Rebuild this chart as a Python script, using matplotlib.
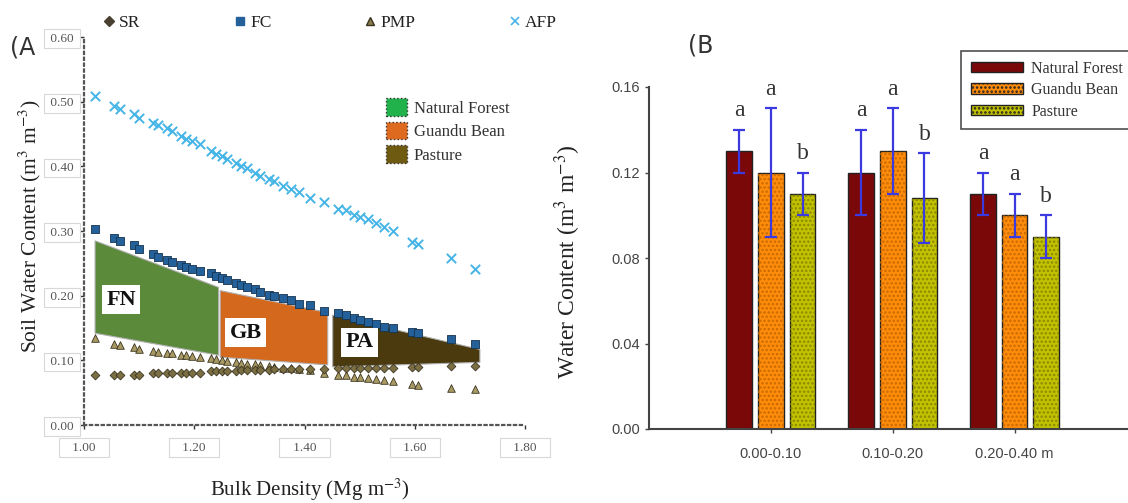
import matplotlib.pyplot as plt
from matplotlib.patches import Patch
from matplotlib.lines import Line2D

plt.rcParams['font.family'] = ['Liberation Serif', 'DejaVu Serif']
plt.rcParams['mathtext.fontset'] = 'stix'
plt.rcParams['hatch.linewidth'] = 1.2

# ---- panel A data ----
bd = [1.02, 1.055, 1.065, 1.09, 1.10, 1.125, 1.135, 1.15, 1.16, 1.175, 1.185,
      1.195, 1.21, 1.23, 1.24, 1.25, 1.26, 1.275, 1.285, 1.295, 1.31, 1.32,
      1.335, 1.345, 1.36, 1.375, 1.39, 1.41, 1.435, 1.46, 1.475, 1.49, 1.50,
      1.515, 1.53, 1.545, 1.56, 1.595, 1.605, 1.665, 1.71]
fc = [0.304, 0.290, 0.285, 0.278, 0.273, 0.265, 0.260, 0.255, 0.252, 0.247, 0.244,
      0.242, 0.239, 0.235, 0.231, 0.227, 0.224, 0.219, 0.216, 0.213, 0.211, 0.206,
      0.201, 0.199, 0.196, 0.193, 0.188, 0.185, 0.177, 0.173, 0.170, 0.165, 0.162,
      0.159, 0.157, 0.151, 0.150, 0.144, 0.142, 0.133, 0.125]
afp = [0.509, 0.494, 0.489, 0.481, 0.475, 0.468, 0.464, 0.460, 0.455, 0.447, 0.443,
       0.440, 0.435, 0.424, 0.420, 0.416, 0.412, 0.405, 0.400, 0.397, 0.390, 0.386,
       0.380, 0.377, 0.370, 0.365, 0.360, 0.352, 0.345, 0.335, 0.332, 0.325, 0.322,
       0.318, 0.312, 0.306, 0.300, 0.283, 0.280, 0.258, 0.242]
pmp = [0.134, 0.126, 0.124, 0.120, 0.118, 0.114, 0.113, 0.112, 0.111, 0.109, 0.108,
       0.107, 0.106, 0.104, 0.102, 0.100, 0.099, 0.098, 0.096, 0.095, 0.094, 0.093,
       0.091, 0.090, 0.089, 0.088, 0.087, 0.085, 0.080, 0.078, 0.077, 0.075, 0.074,
       0.072, 0.071, 0.069, 0.068, 0.063, 0.062, 0.057, 0.055]
sr = [0.077, 0.078, 0.078, 0.078, 0.078, 0.080, 0.080, 0.080, 0.081, 0.081, 0.081,
      0.081, 0.081, 0.083, 0.083, 0.084, 0.084, 0.084, 0.085, 0.085, 0.085, 0.085,
      0.085, 0.086, 0.086, 0.087, 0.087, 0.087, 0.087, 0.088, 0.088, 0.088, 0.088,
      0.089, 0.089, 0.089, 0.089, 0.090, 0.090, 0.091, 0.092]

fn_x = [1.02, 1.244, 1.244, 1.02]
fn_y = [0.285, 0.213, 0.108, 0.142]
gb_x = [1.247, 1.442, 1.442, 1.247]
gb_y = [0.208, 0.174, 0.093, 0.105]
pa_x = [1.451, 1.718, 1.718, 1.451]
pa_y = [0.170, 0.117, 0.097, 0.090]
zone_labels = ['FN', 'GB', 'PA']
zone_label_x = [1.067, 1.293, 1.50]
zone_label_y = [0.194, 0.143, 0.128]

a_xticks = [1.00, 1.20, 1.40, 1.60, 1.80]
a_yticks = [0.00, 0.10, 0.20, 0.30, 0.40, 0.50, 0.60]

# ---- panel B data ----
depths = ['0.00-0.10', '0.10-0.20', '0.20-0.40 m']
nf = [0.13, 0.12, 0.11]
nf_err = [0.01, 0.02, 0.01]
gbn = [0.12, 0.13, 0.10]
gbn_err = [0.03, 0.02, 0.01]
pas = [0.11, 0.108, 0.09]
pas_err = [0.01, 0.021, 0.01]
nf_let = ['a', 'a', 'a']
gb_let = ['a', 'a', 'a']
pa_let = ['b', 'b', 'b']
b_yticks = [0.00, 0.04, 0.08, 0.12, 0.16]

fig = plt.figure(figsize=(11.28, 5.03), dpi=100)

# ================= panel A =================
axA = fig.add_axes([0.0745, 0.155, 0.391, 0.771])
axA.fill(fn_x, fn_y, color='#5a8a3a', ec='#b0b0b0', lw=0.8, zorder=1)
axA.fill(gb_x, gb_y, color='#d4681c', ec='#b0b0b0', lw=0.8, zorder=1)
axA.fill(pa_x, pa_y, color='#4a3a0e', ec='#b0b0b0', lw=0.8, zorder=1)
for t, x, y in zip(zone_labels, zone_label_x, zone_label_y):
    axA.text(x, y, t, ha='center', va='center', fontsize=16, fontweight='bold',
             color='#111111', zorder=4,
             bbox=dict(boxstyle='square,pad=0.2', fc='white', ec='none'))

axA.scatter(bd, afp, marker='x', s=45, color='#45b4e6', lw=1.4, zorder=3)
axA.scatter(bd, fc, marker='s', s=30, color='#24609a', ec='#16344f', lw=0.6, zorder=3)
axA.scatter(bd, pmp, marker='^', s=30, color='#a89a62', ec='#3a3320', lw=0.6, zorder=3)
axA.scatter(bd, sr, marker='D', s=20, color='#7a6e42', ec='#3a3320', lw=0.6, zorder=3)

axA.set_xlim(1.0, 1.8)
axA.set_ylim(0, 0.6)
axA.set_xticks(a_xticks)
axA.set_xticklabels(['   %.2f   ' % v for v in a_xticks])
axA.set_yticks(a_yticks)
axA.set_yticklabels([' %.2f ' % v for v in a_yticks])
for s in ['top', 'right']:
    axA.spines[s].set_visible(False)
for s in ['left', 'bottom']:
    axA.spines[s].set_linestyle(':')
    axA.spines[s].set_color('#555555')
    axA.spines[s].set_linewidth(1.6)
axA.tick_params(direction='out', length=3, width=1, colors='#333333',
                labelsize=9.5, labelcolor='#555555', pad=2)
axA.tick_params(axis='x', pad=9)
for lbl in axA.get_xticklabels() + axA.get_yticklabels():
    lbl.set_bbox(dict(boxstyle='square,pad=0.25', fc='white', ec='#d8d8d8', lw=0.8))

fig.text(310 / 1128, 1 - 490 / 503, 'Bulk Density (Mg m$^{-3}$)', ha='center', va='center',
         fontsize=15, color='#222222')
fig.text(30 / 1128, 1 - 226 / 503, 'Soil Water Content (m$^{3}$ m$^{-3}$)', ha='center',
         va='center', rotation=90, fontsize=15.5, color='#222222')
fig.text(10 / 1128, 1 - 47 / 503, '(A', fontsize=17, va='center', family='DejaVu Sans',
         color='#333333')

top_handles = [
    Line2D([], [], ls='none', marker='D', ms=5, color='#4a4030'),
    Line2D([], [], ls='none', marker='s', ms=5.5, color='#24609a'),
    Line2D([], [], ls='none', marker='^', ms=5.5, color='#8a7c4a', mec='#3a3320'),
    Line2D([], [], ls='none', marker='x', ms=6, color='#45b4e6', mew=1.2),
]
fig.legend(top_handles, ['SR', 'FC', 'PMP', 'AFP'], ncol=4, frameon=False,
           loc='center left', bbox_to_anchor=(88 / 1128, 1 - 23 / 503),
           fontsize=12.5, handlelength=0.6, handletextpad=0.3, columnspacing=5.4,
           labelcolor='#222222')

zone_handles = [
    Patch(fc='#22b24c', ec='#333333', ls=':', lw=1),
    Patch(fc='#dd6a1e', ec='#333333', ls=':', lw=1),
    Patch(fc='#6e5a10', ec='#333333', ls=':', lw=1),
]
axA.legend(zone_handles, ['Natural Forest', 'Guandu Bean', 'Pasture'], frameon=False,
           loc='upper left', bbox_to_anchor=(378 / 1128, 1 - 90 / 503),
           bbox_transform=fig.transFigure, fontsize=12, handlelength=1.25,
           handleheight=1.25, labelspacing=0.3, handletextpad=0.4, borderpad=0,
           labelcolor='#333333')

# ================= panel B =================
axB = fig.add_axes([649 / 1128, 1 - 429 / 503, 0.43, 342 / 503])
xs = range(len(depths))
off = 0.26
w = 0.21
series = [
    (nf, nf_err, nf_let, -off, '#7a0808', None, None),
    (gbn, gbn_err, gb_let, 0.0, '#ff8c0a', '....', '#c86a00'),
    (pas, pas_err, pa_let, off, '#c2c200', '....', '#8a8a00'),
]
for vals, errs, lets, dx, col, hatch, hcol in series:
    pos = [x + dx for x in xs]
    axB.bar(pos, vals, w, color=col, ec='#222222', lw=1, zorder=2)
    if hatch:
        axB.bar(pos, vals, w, color='none', ec=hcol, lw=0, hatch=hatch, zorder=2)
    axB.errorbar(pos, vals, yerr=errs, fmt='none', ecolor='#3a3ae0', elinewidth=1.6,
                 capsize=4, capthick=1.6, zorder=3)
    for p, v, e, l in zip(pos, vals, errs, lets):
        axB.text(p, v + e + 0.009, l, ha='center', va='center', fontsize=17,
                 color='#333333')

axB.set_xlim(-1.0, 2.98)
axB.set_ylim(0, 0.16)
axB.set_xticks(list(xs))
axB.set_xticklabels(depths, family=['Liberation Sans', 'DejaVu Sans'])
axB.set_yticks(b_yticks)
axB.set_yticklabels(['%.2f' % v for v in b_yticks], family=['Liberation Sans', 'DejaVu Sans'])
for s in ['top', 'right']:
    axB.spines[s].set_visible(False)
for s in ['left', 'bottom']:
    axB.spines[s].set_color('#444444')
    axB.spines[s].set_linewidth(1.5)
axB.tick_params(direction='out', length=3, width=1, colors='#444444',
                labelsize=10.5, labelcolor='#444444')
axB.tick_params(axis='x', pad=10)
axB.set_ylabel('Water Content (m$^{3}$ m$^{-3}$)', fontsize=17, color='#222222')
axB.yaxis.set_label_coords(-0.136, 0.49)

fig.text(701 / 1128, 1 - 45 / 503, '(B', fontsize=17, va='center', ha='center',
         family='DejaVu Sans', color='#333333')

b_handles = [
    Patch(fc='#7a0808', ec='#222222', lw=1),
    Patch(fc='#ff8c0a', ec='#222222', lw=1, hatch='....'),
    Patch(fc='#c2c200', ec='#222222', lw=1, hatch='....'),
]
legB = axB.legend(b_handles, ['Natural Forest', 'Guandu Bean', 'Pasture'],
                  loc='upper left', bbox_to_anchor=(953 / 1128, 1 - 43 / 503),
                  bbox_transform=fig.transFigure, fontsize=11.5, handlelength=3.3,
                  handleheight=0.6, labelspacing=0.35, handletextpad=0.5,
                  borderpad=0.6, fancybox=False, edgecolor='#222222',
                  labelcolor='#333333')
legB.get_frame().set_linewidth(1.2)

fig.savefig('out.png', dpi=100)
